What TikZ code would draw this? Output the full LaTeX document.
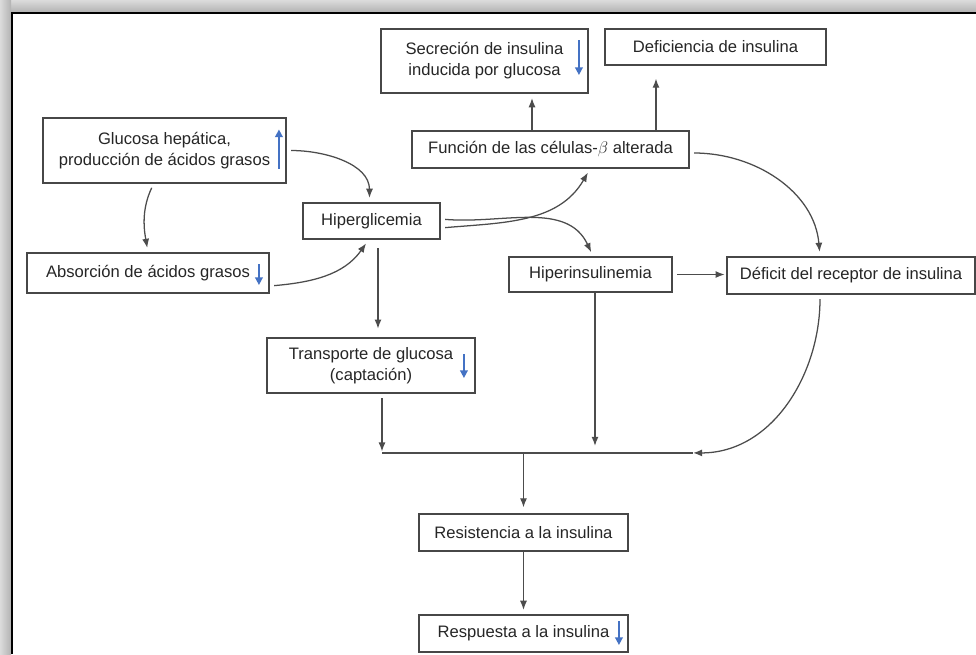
\documentclass[tikz,border=0pt]{standalone}
\usepackage{fontspec}
\setmainfont{Liberation Sans}
\usetikzlibrary{arrows.meta,calc}
\definecolor{trendblue}{RGB}{68,114,196}

\begin{document}
\begin{tikzpicture}[x=0.025cm,y=-0.025cm,
  box/.style={draw=black!72,line width=1.3pt,fill=white,align=center,inner sep=2pt,
    text=black!85,font=\fontsize{11.8}{15}\selectfont},
  link/.style={draw=black!70,line width=0.9pt,-{Latex[length=6.5pt,width=5pt]},
    shorten <=3pt,shorten >=3pt},
  trend/.style={draw=trendblue,line width=1.2pt,-{Triangle[length=5.5pt,width=5.5pt]}}]
\useasboundingbox (0,0) rectangle (976,654);
\shade[top color=black!14,bottom color=black!30] (0,0) rectangle (976,12);
\shade[left color=black!14,right color=black!30] (0,0) rectangle (11,654);
\draw[line width=0.06cm] (12,654) -- (12,13) -- (976,13);

\node[box,minimum width=6.075cm,minimum height=1.625cm] (glu) at (164.5,150.5) {Glucosa hepática,\\producción de ácidos grasos};
\node[box,minimum width=3.425cm,minimum height=0.9cm] (hip) at (371.5,221) {Hiperglicemia};
\node[box,minimum width=6.05cm,minimum height=1.0cm] (abs) at (148,273) {Absorción de ácidos grasos};
\node[box,minimum width=5.2cm,minimum height=1.375cm] (tra) at (371,365.5) {Transporte de glucosa\\(captación)};
\node[box,minimum width=5.175cm,minimum height=1.6cm] (sec) at (484.5,61) {Secreción de insulina\\inducida por glucosa};
\node[box,minimum width=5.525cm,minimum height=0.9cm] (def) at (715.5,47) {Deficiencia de insulina};
\node[box,minimum width=6.925cm,minimum height=0.925cm] (fun) at (550.5,149.5) {Función de las células-$\beta$ alterada};
\node[box,minimum width=4.075cm,minimum height=0.875cm] (hin) at (590.5,274.5) {Hiperinsulinemia};
\node[box,minimum width=6.2cm,minimum height=0.925cm] (dre) at (851,275.5) {Déficit del receptor de insulina};
\node[box,minimum width=5.225cm,minimum height=0.925cm] (res) at (523.5,532.5) {Resistencia a la insulina};
\node[box,minimum width=5.225cm,minimum height=0.925cm] (rsp) at (523.5,633.5) {Respuesta a la insulina};

\draw[trend] ($(glu.east)+(-8,18)$) -- ($(glu.east)+(-8,-21)$);
\draw[trend] ($(sec.east)+(-10,-21)$) -- ($(sec.east)+(-10,14)$);
\draw[trend] ($(abs.east)+(-11,-9)$) -- ($(abs.east)+(-11,12)$);
\draw[trend] ($(tra.east)+(-12,-11.5)$) -- ($(tra.east)+(-12,12.5)$);
\draw[trend] ($(rsp.east)+(-10,-12.5)$) -- ($(rsp.east)+(-10,11.5)$);

\coordinate (s1) at ($(fun.north)+(-18.5,0)$);
\coordinate (s2) at ($(fun.north)+(105.5,0)$);
\coordinate (s3) at ($(hip.south)+(6.5,0)$);
\coordinate (s4) at ($(hin.south)+(4.5,0)$);
\coordinate (jl) at ($(tra.south)+(11,59)$);
\coordinate (jr) at ($(jl)+(311,0)$);
\coordinate (jm) at (jl -| res.north);

\draw[link] (glu.east) to[out=0,in=90] ($(hip.north)+(-2,0)$);
\draw[link] ($(glu.south)+(-11,0)$) to[out=245,in=100] (abs.north);
\draw[link] ($(abs.east)+(0,13)$) to[out=5,in=235] ($(hip.south)+(-3,0)$);
\draw[link] ($(hip.east)+(0,7)$) to[out=5,in=240] ($(fun.south)+(39.5,0)$);
\draw[link] ($(hip.east)+(0,-2)$) to[out=-5,in=115] ($(hin.north)+(2.5,0)$);
\draw[link,shorten <=0pt] (s1) -- (s1 |- sec.south);
\draw[link,shorten <=0pt,shorten >=9pt] (s2) -- (s2 |- def.south);
\draw[link] ($(fun.east)+(0,3.5)$) to[out=0,in=95] ($(dre.north)+(-31,0)$);
\draw[link,shorten >=1pt] (hin.east) -- (hin.east -| dre.west);
\draw[link,shorten <=6pt,shorten >=6pt] (s3) -- (s3 |- tra.north);
\draw[draw=black!70,line width=0.9pt] (jl) -- (jr);
\draw[link,shorten >=1pt] ($(tra.south)+(11,0)$) -- (jl);
\draw[link,shorten <=0pt,shorten >=5pt] (s4) -- (s4 |- jl);
\draw[link,shorten >=0pt] ($(dre.south)+(-31,0)$) to[out=-90,in=0] (jr);
\draw[link,shorten <=0pt,shorten >=4pt] (jm) -- (res.north);
\draw[link,shorten <=0pt] (res.south) -- (rsp.north);
\end{tikzpicture}
\end{document}
